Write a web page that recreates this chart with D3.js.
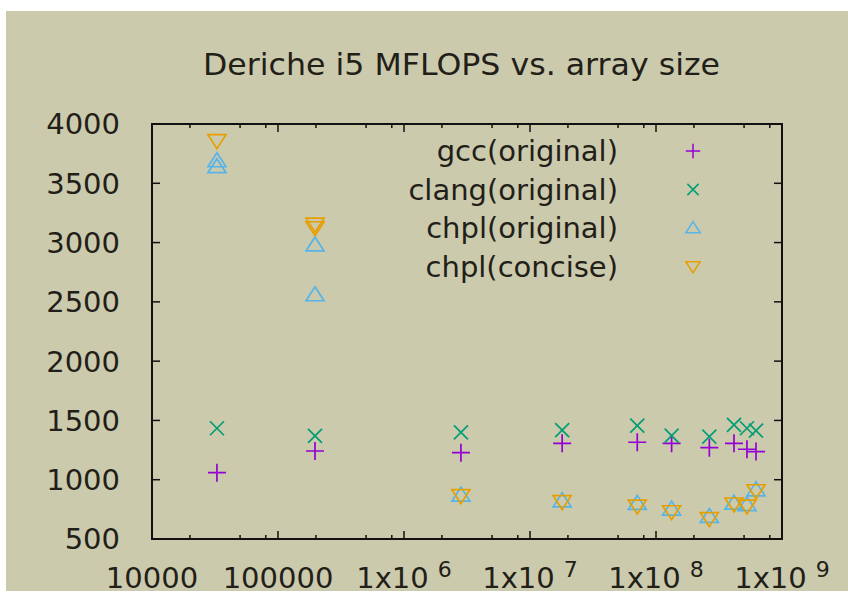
<!DOCTYPE html>
<html>
<head>
<meta charset="utf-8">
<script src="https://cdn.jsdelivr.net/npm/d3@7"></script>
<style>
  body { margin: 0; background: #ffffff; }
  text { font-family: "DejaVu Sans", sans-serif; fill: #221e18; }
</style>
</head>
<body>
<div id="chart"></div>
<script>
// array sizes (x) shared by every series
var sizes = [32768, 196608, 2830000, 18000000, 71000000, 133000000, 265000000, 416000000, 527000000, 622000000];
// MFLOPS per size; an inner array means repeated runs at the same size
var gcc = [1059, 1242, 1228, 1307, 1316, 1307, 1270, 1307, 1257, 1237];
var clang = [1434, 1369, 1400, 1419, 1456, 1372, 1363, 1462, 1434, 1414];
var chplOriginal = [[3690, 3640], [2980, 2560], 870, 822, 800, 752, 690, 802, 790, 915];
var chplConcise = [3860, [3155, 3125], 865, 815, 778, 730, 672, 795, 778, 907];

var seriesNames = ["gcc(original)", "clang(original)", "chpl(original)", "chpl(concise)"];
var seriesColors = ["#9400d3", "#009e73", "#56b4e9", "#e69f00"];
var seriesShapes = ["plus", "cross", "up", "down"];
var seriesValues = [gcc, clang, chplOriginal, chplConcise];

var yTicks = [500, 1000, 1500, 2000, 2500, 3000, 3500, 4000];
var xDecades = [1e4, 1e5, 1e6, 1e7, 1e8, 1e9];
var xLabels = [["10000", ""], ["100000", ""], ["1x10", "6"], ["1x10", "7"], ["1x10", "8"], ["1x10", "9"]];

var width = 848, height = 599;
var plot = { left: 152, right: 782, top: 124, bottom: 539 };

var svg = d3
  .select("#chart")
  .append("svg")
  .attr("width", width)
  .attr("height", height);

// beige canvas like the gnuplot output
svg
  .append("rect")
  .attr("x", 6)
  .attr("y", 11)
  .attr("width", width - 6)
  .attr("height", 580)
  .attr("fill", "#cccaad");

var x = d3.scaleLog().domain([1e4, 1e9]).range([plot.left, plot.right]);
var y = d3.scaleLinear().domain([500, 4000]).range([plot.bottom, plot.top]);

// title
svg
  .append("text")
  .attr("x", 203)
  .attr("y", 75)
  .attr("font-size", 31)
  .attr("textLength", 517)
  .attr("lengthAdjust", "spacingAndGlyphs")
  .text("Deriche i5 MFLOPS vs. array size");

// y ticks on both sides (inward)
var gy = svg.append("g");
yTicks.forEach(function (t) {
  gy.append("line")
    .attr("x1", plot.left).attr("x2", plot.left + 8)
    .attr("y1", y(t)).attr("y2", y(t))
    .attr("stroke", "#111").attr("stroke-width", 1.5);
  gy.append("line")
    .attr("x1", plot.right).attr("x2", plot.right - 8)
    .attr("y1", y(t)).attr("y2", y(t))
    .attr("stroke", "#111").attr("stroke-width", 1.5);
  gy.append("text")
    .attr("x", 120)
    .attr("y", y(t))
    .attr("dy", "0.36em")
    .attr("text-anchor", "end")
    .attr("font-size", 29)
    .text(t);
});

// x ticks: decades long, minor at 2,5,8
var gx = svg.append("g");
var minor = [];
xDecades.slice(0, -1).forEach(function (d) {
  [2, 5, 8].forEach(function (m) { minor.push(d * m); });
});
xDecades.forEach(function (d) {
  [[plot.bottom, -8], [plot.top, 8]].forEach(function (s) {
    gx.append("line")
      .attr("x1", x(d)).attr("x2", x(d))
      .attr("y1", s[0]).attr("y2", s[0] + s[1])
      .attr("stroke", "#111").attr("stroke-width", 1.5);
  });
});
minor.forEach(function (d) {
  [[plot.bottom, -4], [plot.top, 4]].forEach(function (s) {
    gx.append("line")
      .attr("x1", x(d)).attr("x2", x(d))
      .attr("y1", s[0]).attr("y2", s[0] + s[1])
      .attr("stroke", "#111").attr("stroke-width", 1.5);
  });
});
xDecades.forEach(function (d, i) {
  var lbl = gx.append("text")
    .attr("x", x(d))
    .attr("y", 588)
    .attr("text-anchor", "middle")
    .attr("font-size", 29);
  lbl.append("tspan").text(xLabels[i][0]);
  if (xLabels[i][1]) {
    lbl.append("tspan")
      .attr("dx", 9)
      .attr("dy", -11)
      .attr("font-size", 22)
      .text(xLabels[i][1]);
  }
});

// frame
svg
  .append("rect")
  .attr("x", plot.left)
  .attr("y", plot.top)
  .attr("width", plot.right - plot.left)
  .attr("height", plot.bottom - plot.top)
  .attr("fill", "none")
  .attr("stroke", "#111")
  .attr("stroke-width", 2);

// point glyphs, gnuplot style
function marker(shape, k) {
  k = k || 1;
  if (shape == "plus") return "M" + -9 * k + ",0L" + 9 * k + ",0M0," + -9 * k + "L0," + 9 * k;
  if (shape == "cross") return "M" + -7 * k + "," + -7 * k + "L" + 7 * k + "," + 7 * k + "M" + -7 * k + "," + 7 * k + "L" + 7 * k + "," + -7 * k;
  if (shape == "up") return "M0," + -8 * k + "L" + 9 * k + "," + 6 * k + "L" + -9 * k + "," + 6 * k + "Z";
  return "M0," + 8 * k + "L" + 9 * k + "," + -6 * k + "L" + -9 * k + "," + -6 * k + "Z";
}

seriesValues.forEach(function (vals, si) {
  var pts = [];
  vals.forEach(function (v, i) {
    [].concat(v).forEach(function (vv) {
      pts.push({ size: sizes[i], mflops: vv });
    });
  });
  svg
    .append("g")
    .selectAll("path")
    .data(pts)
    .enter()
    .append("path")
    .attr("d", marker(seriesShapes[si]))
    .attr("transform", function (d) {
      return "translate(" + x(d.size) + "," + y(d.mflops) + ")";
    })
    .attr("fill", "none")
    .attr("stroke", seriesColors[si])
    .attr("stroke-width", 1.7);
});

// legend
var legendY = [151, 189.5, 228, 266.5];
seriesNames.forEach(function (name, i) {
  svg
    .append("text")
    .attr("x", 618)
    .attr("y", legendY[i])
    .attr("dy", "0.36em")
    .attr("text-anchor", "end")
    .attr("font-size", 29)
    .text(name);
  svg
    .append("path")
    .attr("d", marker(seriesShapes[i], 0.8))
    .attr("transform", "translate(693," + legendY[i] + ")")
    .attr("fill", "none")
    .attr("stroke", seriesColors[i])
    .attr("stroke-width", 1.5);
});
</script>
</body>
</html>
